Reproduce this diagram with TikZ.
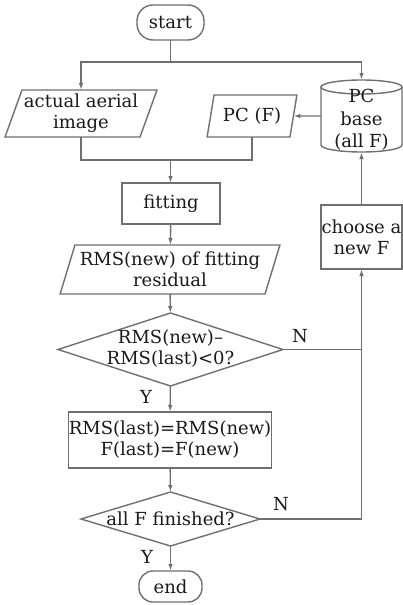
\documentclass[tikz,border=0pt]{standalone}
\usepackage{fontspec}
\setmainfont{DejaVu Serif}
\usetikzlibrary{shapes.geometric,arrows.meta}
\definecolor{ln}{HTML}{707070}
\definecolor{tx}{HTML}{1A1A1A}
\begin{document}
\begin{tikzpicture}[x=1pt,y=-1pt,
  font=\fontsize{18}{21}\selectfont, text=tx,
  every node/.append style={inner sep=0pt, outer sep=0pt, align=center},
  box/.style={draw=ln, line width=1.4pt, rectangle},
  term/.style={draw=ln, line width=1.4pt, rectangle, rounded corners=16pt},
  para/.style={draw=ln, line width=1.4pt, trapezium, trapezium stretches=true},
  dec/.style={draw=ln, line width=1.4pt, diamond},
  conn/.style={draw=ln, line width=1.4pt},
  arr/.style={conn, -{Latex[length=7pt,width=4.5pt]}},
  lbl/.style={text=tx},
]
\fill[white] (0,0) rectangle (403,605);
\useasboundingbox (0,0) rectangle (403,605);

% nodes
\node[term, minimum width=67pt, minimum height=35pt] (start) at (170.5,22.5) {start};
\node[para, trapezium left angle=67, trapezium right angle=113,
      minimum width=152pt, minimum height=47pt] (aerial) at (81,113.5) {actual aerial\\image};
\node[para, trapezium left angle=72, trapezium right angle=108,
      minimum width=90pt, minimum height=42pt] (pcf) at (252,116) {PC (F)};
\node[minimum width=81pt, minimum height=72pt] (base) at (361.5,116) {};
\node[box, minimum width=98pt, minimum height=41pt] (fit) at (171,203.5) {fitting};
\node[para, trapezium left angle=68, trapezium right angle=112,
      minimum width=220pt, minimum height=49pt] (rms) at (170,269.5) {RMS(new) of fitting\\residual};
\node[dec, minimum width=225pt, minimum height=73pt] (d1) at (170.5,349.5) {};
\node[lbl] (d1t) at (170.5,348.5) {RMS(new)--\\RMS(last)<0?};
\node[box, minimum width=203pt, minimum height=56pt] (upd) at (170,440) {RMS(last)=RMS(new)\\F(last)=F(new)};
\node[dec, minimum width=179pt, minimum height=54pt] (d2) at (170.5,519) {};
\node[lbl] (d2t) at (170.5,519) {all F finished?};
\node[term, minimum width=63pt, minimum height=31pt, rounded corners=14pt] (end) at (170.5,586.5) {end};
\node[box, minimum width=81pt, minimum height=64pt] (choose) at (361.5,237) {choose a\\new F};

% cylinder
\draw[ln, line width=1.4pt] (321,87) -- (321,145) arc[start angle=180, end angle=0, x radius=40.5, y radius=7] -- (402,87);
\draw[ln, line width=1.4pt] (361.5,87) ellipse [x radius=40.5, y radius=7];
\node[lbl, font=\fontsize{18}{22.5}\selectfont] (baset) at (361.5,120) {PC\\base\\(all F)};

% labels
\node[lbl] (n1) at (300,336) {N};
\node[lbl] (n2) at (281,504) {N};
\node[lbl] (y1) at (146,397) {Y};
\node[lbl] (y2) at (147,557) {Y};

% connectors
\coordinate (split) at (170.5,62);
\coordinate (join) at (170.5,160);
\coordinate (c1) at (361.5,349.5);
\coordinate (c2) at (361.5,519);
\draw[conn] (start) -- (split);
\draw[arr] (split) -| (aerial.north);
\draw[arr] (split) -| (base.north);
\draw[conn] (aerial.south) |- (join);
\draw[conn] (pcf.south) |- (join);
\draw[arr] (join) -- (join |- fit.north);
\draw[arr] (base.west) -- (pcf.east);
\draw[arr] (fit) -- (rms);
\draw[arr] (rms) -- (d1);
\draw[arr] (d1) -- (upd);
\draw[arr] (upd) -- (d2);
\draw[arr] (d2) -- (end);
\draw[conn] (d1.east) -- (c1);
\draw[arr] (d2.east) -- (c2) -- (choose.south);
\draw[arr] (choose) -- (base.south);
\end{tikzpicture}
\end{document}
